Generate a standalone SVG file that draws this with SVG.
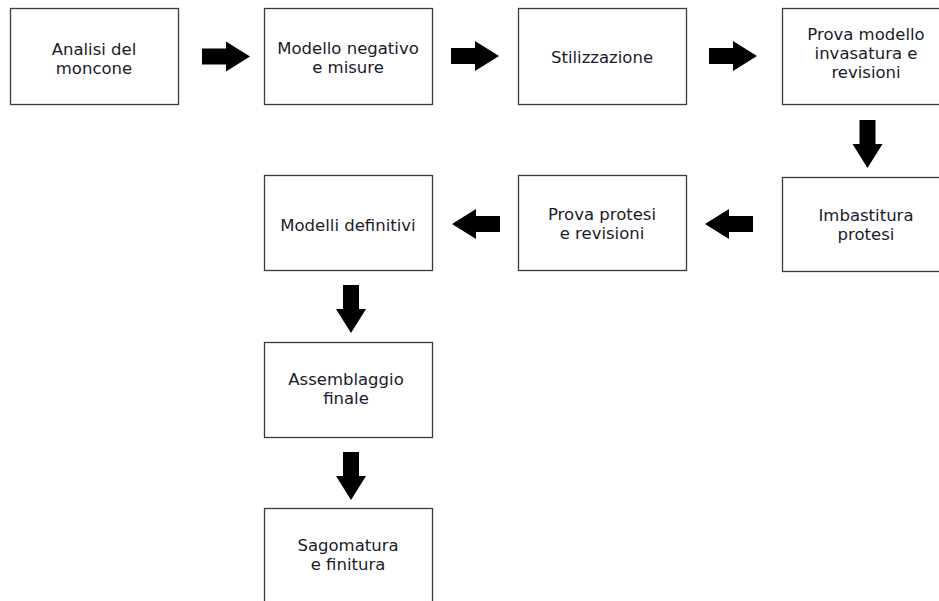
<svg xmlns="http://www.w3.org/2000/svg" width="939" height="601" viewBox="0 0 939 601">
<style>
.box{fill:#fff;stroke:#3a3a3a;stroke-width:1.3}
.t{font-family:"DejaVu Sans",Verdana,sans-serif;font-size:16.5px;fill:#1a1a2a;text-anchor:middle}
.arr{fill:#000}
</style>
<defs>
<path id="arrow" d="M0,-8 H24 V-15 L48,0 L24,15 V8 H0 Z"/>
</defs>
<rect width="939" height="601" fill="#fff"/>
<g id="connectors" class="arr">
<use href="#arrow" transform="translate(202,56.5)"/>
<use href="#arrow" transform="translate(451,56)"/>
<use href="#arrow" transform="translate(709,56)"/>
<use href="#arrow" transform="translate(867.5,120) rotate(90)"/>
<use href="#arrow" transform="translate(753,224) rotate(180)"/>
<use href="#arrow" transform="translate(500,224) rotate(180)"/>
<use href="#arrow" transform="translate(351,285) rotate(90)"/>
<use href="#arrow" transform="translate(351,452) rotate(90)"/>
</g>
<g id="n1"><rect class="box" x="10.5" y="8.5" width="168" height="96"/><text class="t" x="94" y="54.5">Analisi del</text><text class="t" x="94" y="73.5">moncone</text></g>
<g id="n2"><rect class="box" x="264.5" y="8.5" width="168" height="96"/><text class="t" x="348" y="53.5">Modello negativo</text><text class="t" x="348" y="72.5">e misure</text></g>
<g id="n3"><rect class="box" x="518.5" y="8.5" width="168" height="96"/><text class="t" x="602" y="62.5">Stilizzazione</text></g>
<g id="n4"><rect class="box" x="782.5" y="8.5" width="168" height="96"/><text class="t" x="866" y="40">Prova modello</text><text class="t" x="866" y="59">invasatura e</text><text class="t" x="866" y="78">revisioni</text></g>
<g id="n5"><rect class="box" x="782.5" y="177.5" width="168" height="94"/><text class="t" x="866" y="220.5">Imbastitura</text><text class="t" x="866" y="239.5">protesi</text></g>
<g id="n6"><rect class="box" x="518.5" y="175.5" width="168" height="95"/><text class="t" x="602" y="220">Prova protesi</text><text class="t" x="602" y="239">e revisioni</text></g>
<g id="n7"><rect class="box" x="264.5" y="175.5" width="168" height="95"/><text class="t" x="348" y="231">Modelli definitivi</text></g>
<g id="n8"><rect class="box" x="264.5" y="342.5" width="168" height="95"/><text class="t" x="346" y="385">Assemblaggio</text><text class="t" x="346" y="404">finale</text></g>
<g id="n9"><rect class="box" x="264.5" y="508.5" width="168" height="100"/><text class="t" x="348" y="550.5">Sagomatura</text><text class="t" x="348" y="569.5">e finitura</text></g>
</svg>
